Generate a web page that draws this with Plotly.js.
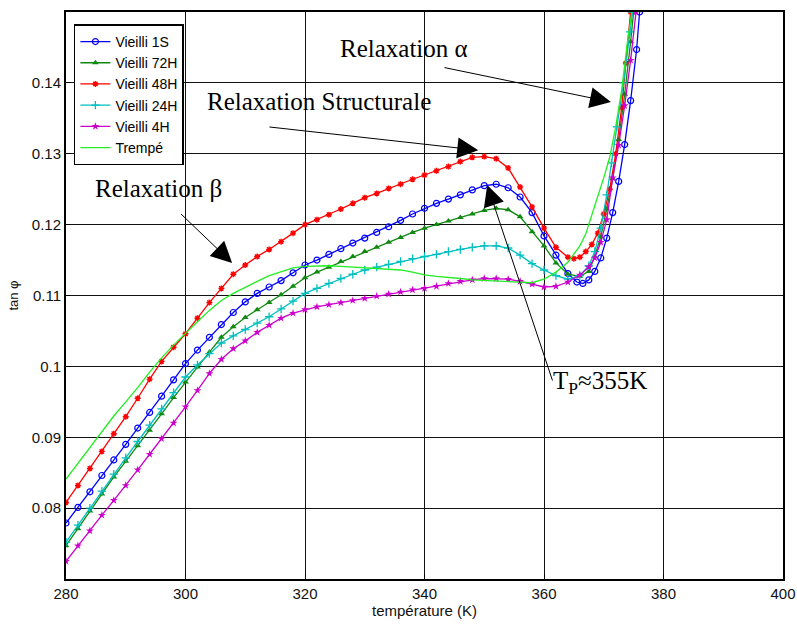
<!DOCTYPE html>
<html>
<head>
<meta charset="utf-8">
<script src="https://cdn.plot.ly/plotly-3.0.1.min.js"></script>
<style>html,body{margin:0;padding:0;background:#fff;}#chart{width:797px;height:624px;}</style>
</head>
<body>
<div id="chart"></div>
<script>
// ---- data ----
const T_1S = [280,282,284,286,288,290,292,294,296,298,300,302,304,306,308,310,312,314,316,318,320,322,324,326,328,330,332,334,336,338,340,342,344,346,348,350,352,354,356,358,360,362,364,365.5,366.5,367.5,368.5,369.5,370.5,371.5,372.5,373.5,374.5,375.5,376];
const Y_1S = [0.0779,0.0801,0.0823,0.0846,0.0868,0.0890,0.0913,0.0935,0.0958,0.0981,0.1004,0.1023,0.1041,0.1059,0.1076,0.1091,0.1103,0.1112,0.1121,0.1132,0.1143,0.1150,0.1158,0.1166,0.1174,0.1181,0.1189,0.1197,0.1206,0.1215,0.1223,0.1230,0.1236,0.1242,0.1249,0.1255,0.1257,0.1252,0.1239,0.1217,0.1184,0.1157,0.1131,0.1119,0.1117,0.1122,0.1134,0.1153,0.1181,0.1217,0.1261,0.1313,0.1375,0.1447,0.1500];

const T_72H = [280,282,284,286,288,290,292,294,296,298,300,302,304,306,308,310,312,314,316,318,320,322,324,326,328,330,332,334,336,338,340,342,344,346,348,350,352,354,356,358,360,362,364,366,367.5,368.5,369.5,370.5,371.5,372.5,373.5,374.5,375];
const Y_72H = [0.0747,0.0771,0.0796,0.0820,0.0844,0.0866,0.0888,0.0910,0.0933,0.0956,0.0978,0.0999,0.1020,0.1041,0.1056,0.1069,0.1080,0.1090,0.1101,0.1113,0.1125,0.1133,0.1140,0.1148,0.1155,0.1162,0.1168,0.1175,0.1182,0.1189,0.1195,0.1200,0.1205,0.1210,0.1215,0.1220,0.1223,0.1221,0.1211,0.1190,0.1170,0.1146,0.1130,0.1127,0.1134,0.1155,0.1183,0.1222,0.1265,0.1320,0.1384,0.1458,0.1500];

const T_48H = [280,282,284,286,288,290,292,294,296,298,300,302,304,306,308,310,312,314,316,318,320,322,324,326,328,330,332,334,336,338,340,342,344,346,348,350,352,354,356,358,360,362,364,365,366,367,368,369,370,371,372,373,373.7,374.5];
const Y_48H = [0.0808,0.0832,0.0856,0.0880,0.0905,0.0929,0.0955,0.0982,0.1007,0.1027,0.1046,0.1068,0.1090,0.1110,0.1130,0.1143,0.1155,0.1165,0.1176,0.1188,0.1200,0.1207,0.1214,0.1222,0.1230,0.1238,0.1244,0.1251,0.1257,0.1264,0.1270,0.1276,0.1282,0.1289,0.1295,0.1296,0.1293,0.1280,0.1253,0.1225,0.1195,0.1168,0.1154,0.1152,0.1154,0.1162,0.1172,0.1188,0.1215,0.1250,0.1300,0.1365,0.1428,0.1500];

const T_24H = [280,282,284,286,288,290,292,294,296,298,300,302,304,306,308,310,312,314,316,318,320,322,324,326,328,330,332,334,336,338,340,342,344,346,348,350,352,354,356,358,360,362,364,366,367.5,368.5,369.5,370.5,371.3,372.2,373.3,374.4,374.8];
const Y_24H = [0.0752,0.0776,0.0800,0.0824,0.0848,0.0871,0.0894,0.0917,0.0940,0.0963,0.0985,0.1002,0.1018,0.1033,0.1043,0.1052,0.1061,0.1070,0.1081,0.1092,0.1103,0.1110,0.1117,0.1124,0.1130,0.1136,0.1140,0.1144,0.1148,0.1152,0.1155,0.1158,0.1162,0.1165,0.1168,0.1170,0.1170,0.1167,0.1157,0.1145,0.1136,0.1128,0.1123,0.1128,0.1142,0.1162,0.1195,0.1242,0.1287,0.1338,0.1400,0.1472,0.1500];

const T_4H = [280,282,284,286,288,290,292,294,296,298,300,302,304,306,308,310,312,314,316,318,320,322,324,326,328,330,332,334,336,338,340,342,344,346,348,350,352,354,356,358,360,362,364,366,367.5,368.5,369.5,370.5,371.5,372.5,373.5,374.5,375.4];
const Y_4H = [0.0725,0.0747,0.0768,0.0790,0.0811,0.0832,0.0854,0.0876,0.0898,0.0920,0.0943,0.0966,0.0990,0.1010,0.1025,0.1036,0.1048,0.1058,0.1068,0.1075,0.1080,0.1084,0.1087,0.1090,0.1093,0.1096,0.1099,0.1102,0.1105,0.1108,0.1110,0.1113,0.1117,0.1120,0.1122,0.1124,0.1124,0.1123,0.1120,0.1116,0.1112,0.1113,0.1119,0.1129,0.1140,0.1153,0.1175,0.1207,0.1266,0.1312,0.1368,0.1432,0.1500];

const T_TR = [280,282,284,286,288,290,292,294,296,298,300,302,304,306,308,310,312,314,316,318,320,322,324,326,328,330,332,334,336,338,340,342,344,346,348,350,352,354,356,358,360,362,364,366,367,368,369,370,371,372,373,374,374.7];
const Y_TR = [0.0841,0.0863,0.0886,0.0908,0.0930,0.0950,0.0970,0.0992,0.1012,0.1030,0.1047,0.1063,0.1079,0.1093,0.1103,0.1112,0.1120,0.1128,0.1134,0.1139,0.1141,0.1142,0.1142,0.1141,0.1140,0.1140,0.1139,0.1138,0.1136,0.1133,0.1129,0.1127,0.1126,0.1124,0.1122,0.1121,0.1120,0.1119,0.1118,0.1118,0.1123,0.1133,0.1147,0.1170,0.1187,0.1212,0.1240,0.1266,0.1295,0.1338,0.1390,0.1460,0.1500];

const NAMES = ['Vieilli 1S','Vieilli 72H','Vieilli 48H','Vieilli 24H','Vieilli 4H','Trempé'];
const X_TICKS = [280,300,320,340,360,380,400];
const Y_TICKS = [0.08,0.09,0.1,0.11,0.12,0.13,0.14];
const Y_TICKTEXT = ['0.08','0.09','0.1','0.11','0.12','0.13','0.14'];

// ---- traces ----
const traces = [
  {x:T_1S, y:Y_1S, name:NAMES[0], mode:'lines+markers', line:{color:'#0000ff',width:1.3},
   marker:{symbol:'circle-open',size:6,color:'#0000ff',line:{width:1.2}}},
  {x:T_72H, y:Y_72H, name:NAMES[1], mode:'lines+markers', line:{color:'#118811',width:1.3},
   marker:{symbol:'triangle-up',size:6,color:'#118811'}},
  {x:T_48H, y:Y_48H, name:NAMES[2], mode:'lines+markers', line:{color:'#ff0000',width:1.3},
   marker:{symbol:'asterisk-open',size:5,color:'#ff0000',line:{width:1.4,color:'#ff0000'}}},
  {x:T_24H, y:Y_24H, name:NAMES[3], mode:'lines+markers', line:{color:'#00bfbf',width:1.3},
   marker:{symbol:'cross-thin-open',size:6,color:'#00bfbf',line:{width:1.3,color:'#00bfbf'}}},
  {x:T_4H, y:Y_4H, name:NAMES[4], mode:'lines+markers', line:{color:'#cc00cc',width:1.3},
   marker:{symbol:'star',size:6,color:'#cc00cc'}},
  {x:T_TR, y:Y_TR, name:NAMES[5], mode:'lines', line:{color:'#22ee22',width:1.3}}
];

const serif = {family:'Liberation Serif, Times New Roman, serif', size:25, color:'#000'};
const arrowStyle = {showarrow:true, arrowhead:2, arrowsize:4.2, arrowwidth:1, arrowcolor:'#000',
  axref:'x', ayref:'y', xref:'x', yref:'y', text:'', standoff:0, startstandoff:0};

const annotations = [
  {x:336.6, y:0.1448, xref:'x', yref:'y', text:'Relaxation α', showarrow:false, font:serif},
  {x:322.3, y:0.1374, xref:'x', yref:'y', text:'Relaxation Structurale', showarrow:false, font:serif},
  {x:295.4, y:0.1251, xref:'x', yref:'y', text:'Relaxation β', showarrow:false, font:serif},
  {x:369.4, y:0.0977, xref:'x', yref:'y', text:'T<sub>P</sub>≈355K', showarrow:false, font:serif},
  Object.assign({}, arrowStyle, {ax:343.1, ay:0.1422, x:371.2, y:0.1373}),
  Object.assign({}, arrowStyle, {ax:313.8, ay:0.1338, x:349.0, y:0.1305}),
  Object.assign({}, arrowStyle, {ax:299.0, ay:0.1217, x:307.8, y:0.1146}),
  Object.assign({}, arrowStyle, {ax:361.5, ay:0.0978, x:350.5, y:0.1256})
];

const sans = 'Liberation Sans, Arial, sans-serif';
const tickFont = {family:sans, size:15, color:'#111'};

const layout = {
  width:797, height:624,
  margin:{l:66, r:14, t:12, b:45},
  paper_bgcolor:'#fff', plot_bgcolor:'#fff',
  showlegend:true,
  legend:{x:0.011, y:0.978, xanchor:'left', yanchor:'top', bgcolor:'#fff',
    bordercolor:'#000', borderwidth:1.5, font:{family:sans, size:14, color:'#000'},
    tracegroupgap:0, itemwidth:30},
  xaxis:{range:[280,400], tickvals:X_TICKS, showgrid:true, gridcolor:'#111', gridwidth:1,
    zeroline:false, showline:true, linecolor:'#000', linewidth:2, mirror:true,
    ticks:'inside', ticklen:4, tickcolor:'#000', tickfont:tickFont,
    title:{text:'température (K)', font:{family:sans, size:15, color:'#111'}, standoff:4}},
  yaxis:{range:[0.07,0.15], tickvals:Y_TICKS, ticktext:Y_TICKTEXT, showgrid:true, gridcolor:'#111', gridwidth:1,
    zeroline:false, showline:true, linecolor:'#000', linewidth:2, mirror:true,
    ticks:'inside', ticklen:4, tickcolor:'#000', tickfont:tickFont,
    title:{text:'tan φ', font:{family:sans, size:13, color:'#111'}, standoff:10}},
  annotations:annotations
};

Plotly.newPlot('chart', traces, layout, {displayModeBar:false, staticPlot:true});
</script>
</body>
</html>
